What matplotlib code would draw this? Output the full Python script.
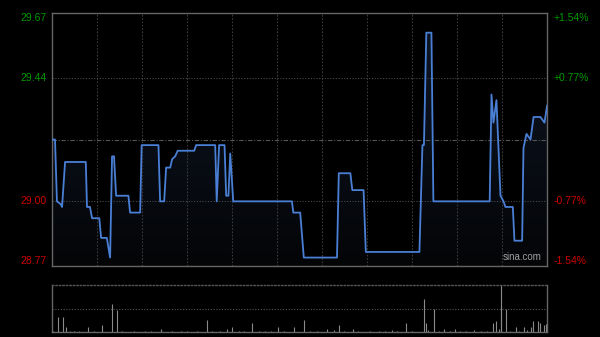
import matplotlib
matplotlib.use("Agg")
import matplotlib.pyplot as plt
import numpy as np

# intraday price, minutes since open (HK session: 330 minutes)
minutes = [0, 2.2, 3.5, 6, 6.9, 8.9, 22.7, 23.5, 25.5, 26.9, 31.7, 32.9, 36.7, 38.9,
           40.2, 41.5, 42.9, 51.1, 52.2, 58.9, 59.9, 71.1, 72.2, 74.9, 76.2, 78.9,
           80.2, 82.2, 83.9, 94.9, 96.2, 108.9, 109.9, 111.5, 115.1, 116.2, 117.7,
           118.9, 120.9, 160, 160.9, 165.5, 167.9, 190, 191.2, 198.9, 200.2, 207.7,
           209.2, 244.9, 246.9, 247.9, 249.5, 252.9, 254.2, 291.7, 292.9, 294.2,
           296.2, 298.9, 300.9, 302.2, 307.1, 308.2, 313.3, 314.2, 316.2, 318.9,
           320.9, 325.5, 328.2, 329.9]
prices = [29.22, 29.22, 29.00, 28.99, 28.98, 29.14, 29.14, 28.98, 28.98, 28.94, 28.94,
          28.87, 28.87, 28.80, 29.16, 29.16, 29.02, 29.02, 28.96, 28.96, 29.20, 29.20,
          29.00, 29.00, 29.12, 29.12, 29.15, 29.16, 29.18, 29.18, 29.20, 29.20, 29.00,
          29.20, 29.20, 29.02, 29.02, 29.17, 29.00, 29.00, 28.96, 28.96, 28.80, 28.80,
          29.10, 29.10, 29.04, 29.04, 28.82, 28.82, 29.20, 29.20, 29.60, 29.60, 29.00,
          29.00, 29.38, 29.28, 29.36, 29.02, 29.00, 28.98, 28.98, 28.86, 28.86, 29.19,
          29.24, 29.22, 29.30, 29.30, 29.28, 29.34]

vol_minutes = [4.4, 7.7, 9.5, 24.4, 33.3, 40, 43.3, 72.7, 103.3, 116.7, 120.4, 133.3,
               150.7, 161.1, 168.2, 183.3, 187.7, 191.5, 200.7, 226.7, 235.7, 247.7,
               249.5, 250.9, 254.4, 261.5, 268.9, 281.1, 294, 296.2, 297.7, 298.9,
               299.5, 302.7, 308.9, 314.4, 316.7, 318.9, 320.4, 323.7, 325.5, 327.8,
               329.3, 330]
volumes = [31, 31, 11, 11, 14, 59, 46, 7, 26, 7, 11, 19, 11, 11, 26, 7, 4, 14, 7, 4, 19,
           71, 19, 4, 50, 7, 7, 4, 19, 24, 7, 55, 100, 50, 11, 11, 4, 10, 24, 24, 19,
           14, 17, 14]
small_minutes = [1, 12, 15, 18, 28, 47, 55, 62, 66, 80, 86, 90, 97, 107, 112, 125, 128,
                 138, 142, 146, 155, 172, 177, 195, 204, 212, 218, 222, 230, 240, 258,
                 265, 272, 276, 286, 290, 305, 311]
small_volumes = [3, 2, 3, 2, 3, 2, 3, 2, 3, 2, 3, 2, 2, 3, 2, 3, 2, 3, 2, 3, 2, 3, 2, 3,
                 2, 3, 2, 3, 2, 3, 2, 3, 2, 3, 2, 3, 2, 3]

prev_close = 29.22
left_ticks = [29.67, 29.44, 29.00, 28.77]
right_labels = ["+1.54%", "+0.77%", "-0.77%", "-1.54%"]
green = "#009900"
red = "#cc0000"

W, H = 600, 337
fig = plt.figure(figsize=(6, 3.37), dpi=100, facecolor="black")
ax = fig.add_axes([51.7 / W, 71 / H, 495.5 / W, 253 / H], facecolor="black")
vax = fig.add_axes([51.7 / W, 5 / H, 495.5 / W, 47 / H], facecolor="black")

ymin, ymax = 28.77, 29.67
ax.set_xlim(0, 330)
ax.set_ylim(ymin, ymax)

# gradient fill under the line
grad = np.linspace(0, 1, 256).reshape(-1, 1)
cmap = matplotlib.colors.LinearSegmentedColormap.from_list("g", ["#040507", "#0e1626"])
im = ax.imshow(grad, extent=[0, 330, ymin, ymax], origin="lower", aspect="auto",
               cmap=cmap, zorder=1)
poly = ax.fill_between(minutes, prices, ymin, color="none", zorder=1)
im.set_clip_path(poly.get_paths()[0], transform=ax.transData)

for x in range(30, 330, 30):
    ax.axvline(x, color="#3a3a3a", lw=0.8, ls=(0, (1.5, 1.5)), zorder=2)
for y in [29.44, 29.00]:
    ax.axhline(y, color="#4a4a4a", lw=0.8, ls=(0, (1, 1.5)), zorder=2)
ax.axhline(prev_close, color="#555555", lw=0.8, ls=(0, (4, 1.5, 1, 1.5)), zorder=2)

ax.plot(minutes, prices, color="#4a7fd6", lw=1.3, zorder=3)

ax.set_xticks([])
ax.set_yticks([])
for s in ax.spines.values():
    s.set_color("#666666")
    s.set_linewidth(1)

font = "Liberation Sans"
vas = ["top", "center", "center", "bottom"]
for i, v in enumerate(left_ticks):
    c = green if v > prev_close else red
    ax.text(-3.2, v, f"{v:.2f}", color=c, fontsize=7.5, ha="right", va=vas[i],
            family=font, transform=ax.transData)
    ax.text(334, v, right_labels[i], color=c, fontsize=7.5, ha="left", va=vas[i],
            family=font)

ax.text(326, 28.785, "sina.com", color="#a0a0a0", fontsize=7, ha="right",
        va="bottom", family=font, zorder=4)

# volume panel
vax.set_xlim(0, 330)
vax.set_ylim(0, 100)
vax.vlines(small_minutes, 0, small_volumes, color="#8a8a8a", lw=0.8)
vax.vlines(vol_minutes, 0, volumes, color="#8a8a8a", lw=0.8)
vax.axhline(50, color="#555555", lw=0.8, ls=(0, (1, 1.5)))
vax.set_xticks([])
vax.set_yticks([])
for k, s in vax.spines.items():
    s.set_color("#666666")
    s.set_linewidth(1)
vax.spines["top"].set_linestyle((0, (1, 1.5)))
vax.spines["top"].set_color("#555555")

fig.savefig("out.png", dpi=100, facecolor="black")
